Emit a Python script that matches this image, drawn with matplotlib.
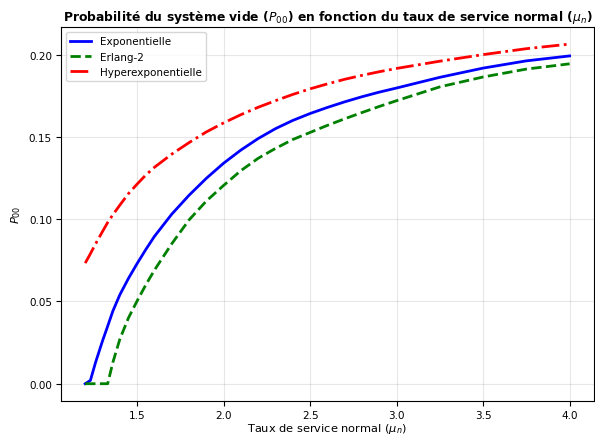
import numpy as np
import matplotlib
matplotlib.use('Agg')
import matplotlib.pyplot as plt

# valeurs
mu_n = [1.2, 1.23, 1.26, 1.3, 1.33, 1.36, 1.4, 1.45, 1.5, 1.55, 1.6, 1.7,
        1.8, 1.9, 2.0, 2.1, 2.2, 2.3, 2.4, 2.5, 2.6, 2.7, 2.8, 2.9, 3.0,
        3.25, 3.5, 3.75, 4.0]

p00_exp = [0.0, 0.002, 0.013, 0.026, 0.035, 0.0442, 0.054, 0.0640, 0.0730,
           0.0815, 0.0895, 0.1030, 0.1145, 0.1248, 0.1340, 0.1420, 0.1490,
           0.1550, 0.1600, 0.1642, 0.1679, 0.1713, 0.1744, 0.1772, 0.1797,
           0.1862, 0.1918, 0.1962, 0.1992]

p00_erl = [0.0, 0.0, 0.0, 0.0, 0.0, 0.013, 0.027, 0.040, 0.0503,
           0.060, 0.0690, 0.0850, 0.0995, 0.1110, 0.1205, 0.1295, 0.1370,
           0.1430, 0.1484, 0.1527, 0.1570, 0.1610, 0.1648, 0.1685, 0.1720,
           0.1804, 0.1864, 0.1912, 0.1944]

p00_hyp = [0.0733, 0.079, 0.085, 0.0925, 0.098, 0.1027, 0.1085, 0.1155,
           0.1213, 0.1268, 0.1315, 0.1395, 0.1465, 0.1530, 0.1585, 0.1635,
           0.1680, 0.1720, 0.1758, 0.1792, 0.1822, 0.1850, 0.1874, 0.1896,
           0.1916, 0.1960, 0.2000, 0.2036, 0.2064]

fig = plt.figure(figsize=(5.95, 4.39), dpi=100)
ax = fig.add_subplot(111)
fig.subplots_adjust(left=0.1025, right=0.998, top=0.936, bottom=0.085)

ax.plot(mu_n, p00_exp, 'b-', lw=2.0, label='Exponentielle')
ax.plot(mu_n, p00_erl, 'g--', lw=2.0, label='Erlang-2')
ax.plot(mu_n, p00_hyp, 'r-.', lw=2.0, label='Hyperexponentielle')

ax.set_title(r'Probabilité du système vide ($P_{00}$) en fonction du taux de service normal ($\mu_n$)',
             fontsize=8.9, fontweight='bold', pad=5)
ax.set_xlabel(r'Taux de service normal ($\mu_n$)', fontsize=8.2, labelpad=1)
ax.set_ylabel(r'$P_{00}$', fontsize=8.2)
ax.tick_params(labelsize=7.5, pad=3)
ax.grid(True, alpha=0.3)
ax.legend(loc='upper left', fontsize=7.5)

fig.savefig('out.png', dpi=100)
